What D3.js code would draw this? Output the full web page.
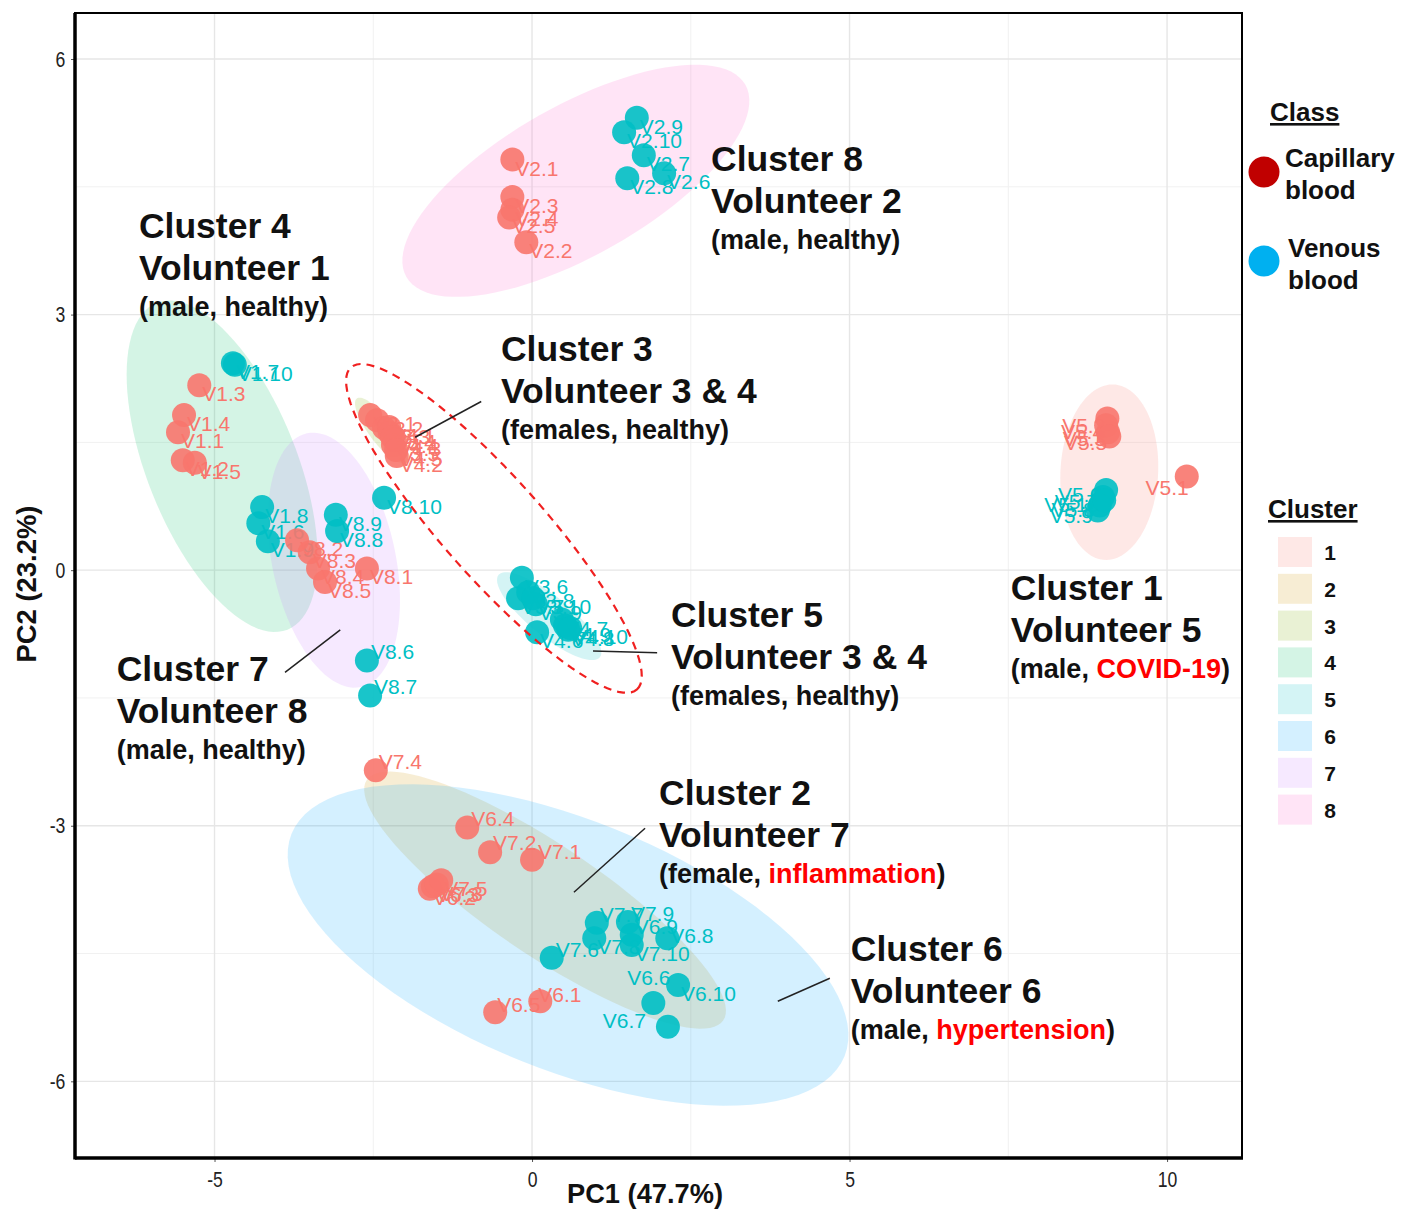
<!DOCTYPE html>
<html><head><meta charset="utf-8">
<script src="https://cdn.jsdelivr.net/npm/d3@7"></script>
<style>body{margin:0;background:#fff} svg{display:block}</style>
</head><body><svg id="c" width="1401" height="1210"></svg>
<script>
// ---------- DATA ----------
const sampleNames = [
 "V1.1","V1.2","V1.3","V1.4","V1.5","V2.1","V2.2","V2.3","V2.4","V2.5",
 "V3.1","V3.2","V3.3","V3.4","V3.5","V4.1","V4.2","V4.3","V4.4","V4.5",
 "V5.1","V5.2","V5.3","V5.4","V5.5","V6.1","V6.2","V6.3","V6.4","V6.5",
 "V7.1","V7.2","V7.3","V7.4","V7.5","V8.1","V8.2","V8.3","V8.4","V8.5",
 "V1.6","V1.7","V1.8","V1.9","V1.10","V2.6","V2.7","V2.8","V2.9","V2.10",
 "V3.6","V3.7","V3.8","V3.9","V3.10","V4.6","V4.7","V4.8","V4.9","V4.10",
 "V5.6","V5.7","V5.8","V5.9","V5.10","V6.6","V6.7","V6.8","V6.9","V6.10",
 "V7.6","V7.7","V7.8","V7.9","V7.10","V8.6","V8.7","V8.8","V8.9","V8.10"];
const pc1 = [
 -5.575,-5.50,-5.24,-5.48,-5.31,-0.31,-0.09,-0.31,-0.31,-0.36,
 -2.55,-2.44,-2.33,-2.24,-2.19,-2.25,-2.13,-2.16,-2.20,-2.14,
 10.31,9.06,9.07,9.04,9.09,0.13,-1.61,-1.56,-1.02,-0.58,
 0.00,-0.66,-1.50,-2.46,-1.43,-2.60,-3.70,-3.50,-3.37,-3.26,
 -4.31,-4.71,-4.25,-4.16,-4.68,2.08,1.76,1.50,1.65,1.45,
 -0.16,-0.22,-0.06,0.06,0.02,0.08,0.47,0.57,0.52,0.60,
 9.04,8.99,8.94,8.91,9.01,1.91,2.14,2.13,1.57,2.30,
 0.31,1.02,0.98,1.51,1.57,-2.60,-2.55,-3.07,-3.09,-2.33];
const pc2 = [
 1.62,1.29,2.17,1.82,1.26,4.82,3.85,4.38,4.23,4.14,
 1.82,1.76,1.67,1.61,1.47,1.68,1.34,1.53,1.56,1.41,
 1.10,1.78,1.62,1.70,1.57,-5.06,-3.74,-3.71,-3.02,-5.19,
 -3.40,-3.31,-3.69,-2.35,-3.64,0.02,0.35,0.21,0.02,-0.14,
 0.55,2.43,0.74,0.34,2.41,4.66,4.87,4.60,5.31,5.14,
 -0.09,-0.33,-0.26,-0.40,-0.33,-0.73,-0.58,-0.70,-0.65,-0.68,
 0.94,0.86,0.76,0.70,0.82,-5.08,-5.36,-4.32,-4.28,-4.87,
 -4.55,-4.14,-4.32,-4.13,-4.40,-1.06,-1.47,0.46,0.65,0.85];
const sampleClass = sampleNames.map((d,i)=> i<40 ? "Capillary" : "Venous");

const classLabels = [["Capillary","blood"],["Venous","blood"]];
const clusterIds = [1,2,3,4,5,6,7,8];
const xTicks = [-5,0,5,10];
const yTicks = [-6,-3,0,3,6];
const xTitle = "PC1 (47.7%)";
const yTitle = "PC2 (23.2%)";

// ellipse definitions (data units): centre, semi-major vector, semi-minor vector
const ellCluster = [1,2,3,4,5,6,7,8];
const ellCx = [9.09, 0.205,-2.38,-4.88, 0.27, 0.567,-3.12, 0.69];
const ellCy = [1.15,-3.873, 1.64, 1.22,-0.54,-4.40, 0.117, 4.57];
const ellAx = [0.05, 2.807, 0.378, 1.03, 0.80, 4.354, 0.425, 2.67];
const ellAy = [1.03,-1.411,-0.376,-1.918,-0.48,-1.305,-1.489, 1.127];
const ellBx = [0.77, 0.485, 0.151, 1.096, 0.186, 0.734, 0.95, 0.58];
const ellBy = [0.00, 0.535, 0.0845, 0.326, 0.189, 1.362, 0.150,-0.766];

// highlighted (dashed) ellipse
const dashEll = {cx:-0.60, cy:0.49, ax:2.252, ay:-1.89, bx:0.59, by:0.39};

// annotations
const annoX = [2.82,-6.19,-0.49, 2.19,-6.54, 7.54, 2.00, 5.02];
const annoY = [4.68, 3.90, 2.46,-0.67,-1.30,-0.35,-2.76,-4.59];
const annoLine1 = ["Cluster 8","Cluster 4","Cluster 3","Cluster 5","Cluster 7","Cluster 1","Cluster 2","Cluster 6"];
const annoLine2 = ["Volunteer  2","Volunteer  1","Volunteer  3 & 4","Volunteer  3 & 4","Volunteer  8","Volunteer  5","Volunteer  7","Volunteer  6"];
const annoLine3 = [
 [["(male, healthy)",0]],
 [["(male, healthy)",0]],
 [["(females, healthy)",0]],
 [["(females, healthy)",0]],
 [["(male, healthy)",0]],
 [["(male, ",0],["COVID-19",1],[")",0]],
 [["(female, ",0],["inflammation",1],[")",0]],
 [["(male, ",0],["hypertension",1],[")",0]]];
const leaderX1 = [-1.84,-3.89,0.96,0.66,3.87];
const leaderY1 = [1.56,-1.20,-0.95,-3.78,-5.06];
const leaderX2 = [-0.80,-3.02,1.97,1.78,4.69];
const leaderY2 = [1.98,-0.70,-0.97,-3.03,-4.79];

// label placement tweaks (px): [dx, dy(baseline), anchor]
const labelNudge = {
 "V8.6":[4,-1,"start"],"V8.7":[4,-1,"start"],"V7.4":[3,-1,"start"],"V6.4":[4,-1,"start"],
 "V7.2":[3,-2,"start"],"V7.1":[6,-1,"start"],"V7.6":[4,-1,"start"],"V7.7":[3,-1,"start"],
 "V7.9":[3,-1,"start"],"V6.9":[3,-1,"start"],"V6.1":[-2,1,"start"],
 "V5.1":[2,19,"end"],"V5.2":[-2,14,"end"],"V5.3":[-2,14,"end"],"V5.4":[-2,14,"end"],"V5.5":[-2,14,"end"],
 "V5.6":[-5,12,"end"],"V5.7":[-5,12,"end"],"V5.8":[-5,12,"end"],"V5.9":[-5,12,"end"],"V5.10":[-5,12,"end"],
 "V6.6":[-26,-18,"start"],"V6.7":[-22,1,"end"],"V6.5":[2,0,"start"],"V6.8":[3,5,"start"]
};

// ---------- STYLE ----------
const hue = ["#F8766D","#CD9600","#7CAE00","#00BE67","#00BFC4","#00A9FF","#C77CFF","#FF61CC"];
const classColor = {Capillary:"#F8766D", Venous:"#00BFC4"};
const legendDot = {Capillary:"#C00000", Venous:"#00B0F0"};
const FONT = "'Liberation Sans', Arial, sans-serif";

const svg = d3.select("#c");
const L=75, R=1242, T=13, B=1158;
const x = d3.scaleLinear().domain([-7.197, 11.18]).range([L, R]);
const y = d3.scaleLinear().domain([-6.90, 6.54]).range([B, T]);

// grid
const g = svg.append("g");
const minorX = [-2.5,2.5,7.5], minorY=[-4.5,-1.5,1.5,4.5];
g.selectAll(".mx").data(minorX).join("line").attr("x1",d=>x(d)).attr("x2",d=>x(d)).attr("y1",T).attr("y2",B).attr("stroke","#F1F1F1").attr("stroke-width",1);
g.selectAll(".my").data(minorY).join("line").attr("y1",d=>y(d)).attr("y2",d=>y(d)).attr("x1",L).attr("x2",R).attr("stroke","#F1F1F1").attr("stroke-width",1);
g.selectAll(".gx").data(xTicks).join("line").attr("x1",d=>x(d)).attr("x2",d=>x(d)).attr("y1",T).attr("y2",B).attr("stroke","#E6E6E6").attr("stroke-width",1.4);
g.selectAll(".gy").data(yTicks).join("line").attr("y1",d=>y(d)).attr("y2",d=>y(d)).attr("x1",L).attr("x2",R).attr("stroke","#E6E6E6").attr("stroke-width",1.4);

// ellipses
function ellPath(cx,cy,ax,ay,bx,by){
  const pts = d3.range(0,101).map(i=>{const t=i/100*2*Math.PI;
    return [x(cx+ax*Math.cos(t)+bx*Math.sin(t)), y(cy+ay*Math.cos(t)+by*Math.sin(t))];});
  return d3.line()(pts)+"Z";
}
svg.append("g").selectAll("path").data(ellCluster).join("path")
  .attr("d",(d,i)=>ellPath(ellCx[i],ellCy[i],ellAx[i],ellAy[i],ellBx[i],ellBy[i]))
  .attr("fill",d=>hue[d-1]).attr("fill-opacity",0.17).attr("stroke","none");

// labels
const idx = d3.range(sampleNames.length);
svg.append("g").selectAll("text").data(idx).join("text")
  .attr("x",i=>x(pc1[i]) + (labelNudge[sampleNames[i]]||[3,16,"start"])[0])
  .attr("y",i=>y(pc2[i]) + (labelNudge[sampleNames[i]]||[3,16,"start"])[1])
  .attr("text-anchor",i=>(labelNudge[sampleNames[i]]||[3,16,"start"])[2])
  .attr("font-family",FONT).attr("font-size",21)
  .attr("fill",i=>classColor[sampleClass[i]])
  .text(i=>sampleNames[i]);

// points
svg.append("g").selectAll("circle").data(idx).join("circle")
  .attr("cx",i=>x(pc1[i])).attr("cy",i=>y(pc2[i])).attr("r",12)
  .attr("fill",i=>classColor[sampleClass[i]]).attr("fill-opacity",0.9);

// dashed ellipse
svg.append("path").attr("d",ellPath(dashEll.cx,dashEll.cy,dashEll.ax,dashEll.ay,dashEll.bx,dashEll.by))
  .attr("fill","none").attr("stroke","#F02020").attr("stroke-width",2.2).attr("stroke-dasharray","8,6");

// leader lines
svg.append("g").selectAll("line").data(leaderX1).join("line")
  .attr("x1",(d,i)=>x(leaderX1[i])).attr("y1",(d,i)=>y(leaderY1[i]))
  .attr("x2",(d,i)=>x(leaderX2[i])).attr("y2",(d,i)=>y(leaderY2[i]))
  .attr("stroke","#222").attr("stroke-width",1.5);

// annotation text
const ag = svg.append("g").attr("font-family",FONT).attr("font-weight","bold").attr("fill","#111").style("white-space","pre");
annoLine1.forEach((t,i)=>{
  const ax0 = x(annoX[i]), ay0 = y(annoY[i]);
  ag.append("text").attr("x",ax0).attr("y",ay0).attr("font-size",35.5).text(t);
  ag.append("text").attr("x",ax0).attr("y",ay0+42).attr("font-size",35.5).text(annoLine2[i]);
  const t3 = ag.append("text").attr("x",ax0).attr("y",ay0+78).attr("font-size",27);
  annoLine3[i].forEach(p=>t3.append("tspan").attr("fill",p[1]?"#FF0000":"#111").text(p[0]));
});

// axes
const xAxis = svg.append("g").attr("transform",`translate(0,${B})`)
  .call(d3.axisBottom(x).tickValues(xTicks).tickSize(4).tickPadding(8).tickFormat(d3.format("d")));
const yAxis = svg.append("g").attr("transform",`translate(${L},0)`)
  .call(d3.axisLeft(y).tickValues(yTicks).tickSize(4).tickPadding(8).tickFormat(d3.format("d")));
[xAxis,yAxis].forEach(a=>{
  a.select(".domain").remove();
  a.selectAll(".tick line").attr("stroke","#555");
  a.selectAll(".tick text").attr("font-family",FONT).attr("font-size",22).attr("fill","#222")
   .text(d=>String(d).replace("\u2212","-"));
});
xAxis.selectAll(".tick text").attr("transform","scale(0.8,1)");
yAxis.selectAll(".tick text").attr("transform","scale(0.8,1)");
xAxis.selectAll(".tick text").attr("dy","0.85em").attr("y",10);

// frame
svg.append("rect").attr("x",L).attr("y",T).attr("width",R-L).attr("height",B-T)
  .attr("fill","none").attr("stroke","#000").attr("stroke-width",2);
svg.append("line").attr("x1",L).attr("x2",L).attr("y1",T).attr("y2",B+1.5).attr("stroke","#000").attr("stroke-width",3.5);
svg.append("line").attr("x1",L).attr("x2",R+1).attr("y1",B).attr("y2",B).attr("stroke","#000").attr("stroke-width",3.5);

// axis titles
svg.append("text").attr("x",645).attr("y",1203).attr("text-anchor","middle")
  .attr("font-family",FONT).attr("font-weight","bold").attr("font-size",28)
  .attr("textLength",156).attr("lengthAdjust","spacingAndGlyphs").attr("fill","#111").text(xTitle);
svg.append("text").attr("transform","translate(36,584) rotate(-90)").attr("text-anchor","middle")
  .attr("font-family",FONT).attr("font-weight","bold").attr("font-size",28)
  .attr("textLength",157).attr("lengthAdjust","spacingAndGlyphs").attr("fill","#111").text(yTitle);

// legend: Class
const lg = svg.append("g").attr("font-family",FONT).attr("font-weight","bold").attr("fill","#111");
lg.append("text").attr("x",1270).attr("y",121).attr("font-size",26).attr("text-decoration","underline").text("Class");
const classKeys = ["Capillary","Venous"];
const dotY = [172,261], txtX=[1285,1288], txtY=[167,257];
classKeys.forEach((k,i)=>{
  lg.append("circle").attr("cx",1264).attr("cy",dotY[i]).attr("r",15.5).attr("fill",legendDot[k]);
  lg.append("text").attr("x",txtX[i]).attr("y",txtY[i]).attr("font-size",26).text(classLabels[i][0]);
  lg.append("text").attr("x",txtX[i]).attr("y",txtY[i]+32).attr("font-size",26).text(classLabels[i][1]);
});
// legend: Cluster
lg.append("text").attr("x",1268).attr("y",518).attr("font-size",26).attr("text-decoration","underline").text("Cluster");
clusterIds.forEach((c,i)=>{
  const by = 537 + i*36.8;
  lg.append("rect").attr("x",1278).attr("y",by).attr("width",34).attr("height",30)
    .attr("fill",hue[c-1]).attr("fill-opacity",0.17);
  lg.append("text").attr("x",1330).attr("y",by+23).attr("text-anchor","middle").attr("font-size",21).text(c);
});
</script></body></html>
